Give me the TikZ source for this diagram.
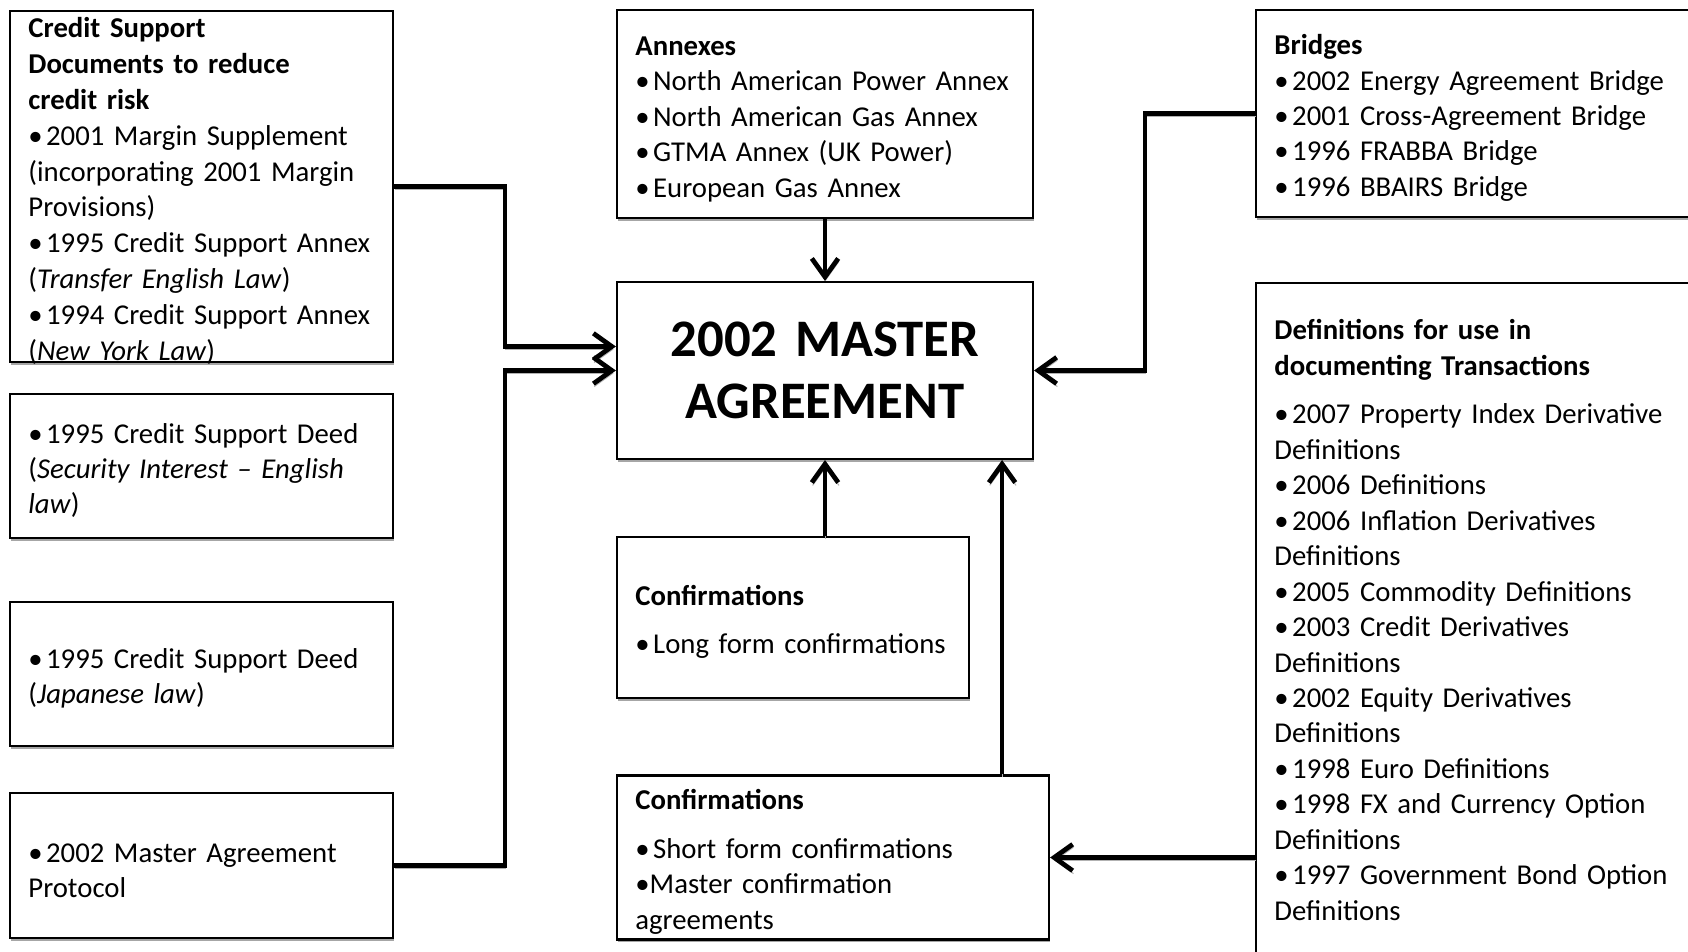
\documentclass[tikz,border=0pt]{standalone}
\usepackage{fontspec}
\setmainfont{Carlito}
\usepackage{tikz}
\usetikzlibrary{calc}
\usetikzlibrary{arrows.meta,shadows}

\newcommand{\bul}{\textbullet\hspace{1.3pt}}

\begin{document}
\begin{tikzpicture}[
    x=0.3793pt,y=0.3793pt,
    basic/.style={draw,line width=0.8pt,fill=white,inner xsep=7pt,inner ysep=2pt,
        align=left,font=\fontsize{10.9}{13.45}\selectfont,
        execute at begin node={\hyphenpenalty=10000},
        drop shadow={shadow xshift=0.3pt,shadow yshift=-1.1pt,fill=gray!70,opacity=1}},
    lower/.style={execute at begin node={\hyphenpenalty=10000\rule{0pt}{11pt}}},
    leftbox/.style={basic,minimum width=145.3pt,text width=131.3pt},
    midbox/.style={basic,minimum width=157.8pt,text width=143.8pt},
    rightbox/.style={basic,minimum width=172.2pt,text width=158.2pt},
    conn/.style={line width=1.8pt,-{Straight Barb[length=7pt,width=10pt]},
        preaction={draw=gray!60,transform canvas={xshift=0.3pt,yshift=-1.1pt}}},
]
    \useasboundingbox (0,0) rectangle (1688,951);
    \clip (0,0) rectangle (1688,951);

    %left column
    \node[leftbox,lower,minimum height=133.1pt,inner ysep=-3pt,font=\fontsize{10.9}{13.65}\selectfont]
        (cs) at (201.5,764.5) {\textbf{Credit Support}\\
        \textbf{Documents to reduce}\\ \textbf{credit risk}\\
        \bul 2001 Margin Supplement\\ (incorporating 2001 Margin\\ Provisions)\\
        \bul 1995 Credit Support Annex\\ (\textit{Transfer English Law})\\
        \bul 1994 Credit Support Annex\\ (\textit{New York Law})};
    \node[leftbox,lower,minimum height=54.6pt] (deeda) at (201.5,485) {\bul 1995 Credit Support Deed\\
        (\textit{Security Interest – English}\\ \textit{law})};
    \node[leftbox,lower,minimum height=54.6pt] (deedb) at (201.5,277) {\bul 1995 Credit Support Deed\\
        (\textit{Japanese law})};
    \node[leftbox,lower,minimum height=55pt] (proto) at (201.5,85.5) {\bul 2002 Master Agreement\\ Protocol};

    %middle column
    \node[midbox,lower,minimum height=78.9pt] (annex) at (825,837) {\textbf{Annexes}\\
        \bul North American Power Annex\\ \bul North American Gas Annex\\
        \bul GTMA Annex (UK Power)\\ \bul European Gas Annex};
    \node[midbox,minimum height=67.1pt,align=center,font=\fontsize{20}{23.5}\selectfont\bfseries]
        (master) at (825,580.5) {2002 MASTER\\ AGREEMENT};
    \node[basic,lower,minimum width=133.5pt,text width=119.5pt,minimum height=61.1pt] (confa) at (793,333.5)
        {\textbf{Confirmations}\\[5pt] \bul Long form confirmations};
    \node[basic,lower,minimum width=163.9pt,text width=149.9pt,minimum height=61.1pt] (confb) at (833,93.5)
        {\textbf{Confirmations}\\[5pt] \bul Short form confirmations\\ \textbullet Master confirmation\\ agreements};

    %right column
    \node[rightbox,lower,minimum height=78.5pt] (bridges) at (1483,837.5) {\textbf{Bridges}\\
        \bul 2002 Energy Agreement Bridge\\ \bul 2001 Cross-Agreement Bridge\\
        \bul 1996 FRABBA Bridge\\ \bul 1996 BBAIRS Bridge};
    \node[rightbox,minimum height=255.6pt,anchor=north] (defs) at (1483,669) {\textbf{Definitions for use in}\\
        \textbf{documenting Transactions}\\[5pt]
        \bul 2007 Property Index Derivative\\ Definitions\\ \bul 2006 Definitions\\
        \bul 2006 Inflation Derivatives\\ Definitions\\ \bul 2005 Commodity Definitions\\
        \bul 2003 Credit Derivatives\\ Definitions\\ \bul 2002 Equity Derivatives\\ Definitions\\
        \bul 1998 Euro Definitions\\ \bul 1998 FX and Currency Option\\ Definitions\\
        \bul 1997 Government Bond Option\\ Definitions};

    %connectors
    \coordinate (lbus) at (505,0);
    \coordinate (rbus) at (1145,0);
    \coordinate (csin) at ($(master.west)+(0,24)$);
    \coordinate (confin) at ($(master.south east)+(-32,0)$);

    \draw[conn] (cs.east) -| (lbus |- csin) -- (csin);
    \draw[conn] (proto.east) -| (lbus |- master.west) -- (master.west);
    \draw[conn] (annex) -- (master);
    \draw[conn] (bridges.west) -| (rbus |- master.east) -- (master.east);
    \draw[conn] (master.south |- confa.north) -- (master.south);
    \draw[conn] (confin |- confb.north) -- (confin);
    \draw[conn] (confb.east -| defs.west) -- (confb.east);
\end{tikzpicture}
\end{document}
